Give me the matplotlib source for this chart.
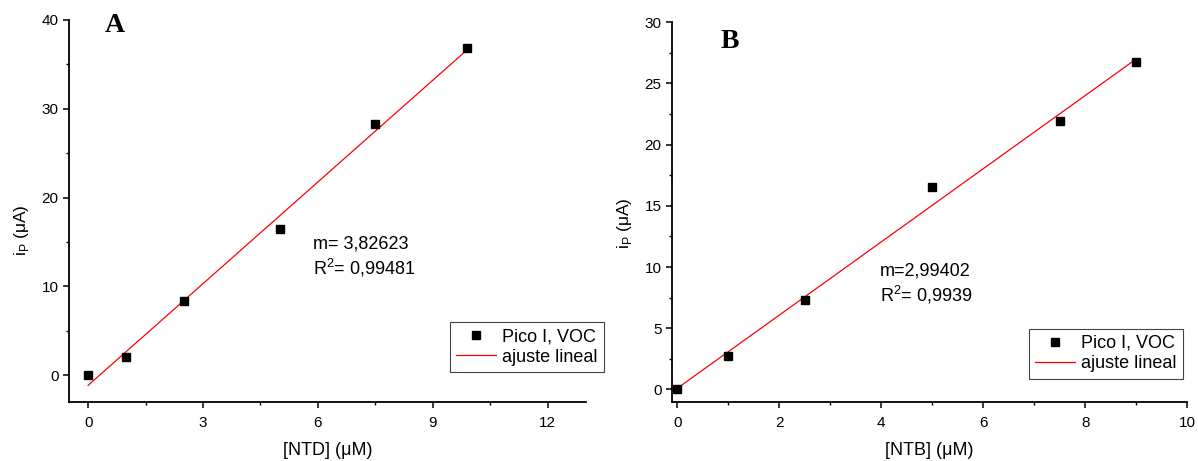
import numpy as np
import matplotlib
matplotlib.use("Agg")
import matplotlib.pyplot as plt
from matplotlib.ticker import MultipleLocator

plt.rcParams["font.family"] = ["Liberation Sans", "DejaVu Sans"]

# panel A: NTD
ntd_conc = [0, 1, 2.5, 5, 7.5, 9.9]
ntd_ip = [0, 2.06, 8.35, 16.5, 28.3, 36.8]
ntd_text = "m= 3,82623\nR$^\\mathregular{2}$= 0,99481"

# panel B: NTB
ntb_conc = [0, 1, 2.5, 5, 7.5, 9.0]
ntb_ip = [0, 2.74, 7.3, 16.55, 21.95, 26.73]
ntb_text = "m=2,99402\nR$^\\mathregular{2}$= 0,9939"

fig = plt.figure(figsize=(11.98, 4.61), dpi=100)
axA = fig.add_axes([0.0576, 0.128, 0.4314, 0.829])
axB = fig.add_axes([0.561, 0.1286, 0.430, 0.8234])


def style(ax, xlim, ylim, xmaj, ymaj, ylab_y):
    ax.set_xlim(*xlim)
    ax.set_ylim(*ylim)
    ax.xaxis.set_major_locator(MultipleLocator(xmaj))
    ax.xaxis.set_minor_locator(MultipleLocator(xmaj / 2))
    ax.yaxis.set_major_locator(MultipleLocator(ymaj))
    ax.yaxis.set_minor_locator(MultipleLocator(ymaj / 2))
    for s in ["top", "right"]:
        ax.spines[s].set_visible(False)
    for s in ["left", "bottom"]:
        ax.spines[s].set_linewidth(1.3)
    ax.tick_params(which="major", direction="out", length=4, width=1.1, labelsize=11)
    ax.tick_params(axis="x", which="major", pad=6)
    ax.tick_params(which="minor", direction="out", length=2.5, width=1.0)
    ax.set_ylabel("i$_\\mathregular{P}$ (μA)", fontsize=12.5)
    ax.yaxis.set_label_coords(-0.074, ylab_y)


def panel(ax, x, y, label, txt, txtpos, lbl, lblpos, legpos):
    x = np.array(x)
    y = np.array(y)
    ax.plot(x, y, "s", color="black", markersize=6, label="Pico I, VOC", zorder=3)
    m, b = np.polyfit(x, y, 1)
    xx = np.array([x.min(), x.max()])
    ax.plot(xx, m * xx + b, color="red", lw=0.9, label="ajuste lineal", zorder=2)
    ax.set_xlabel(label, fontsize=13, labelpad=9)
    ax.text(*txtpos, txt, transform=ax.transAxes, fontsize=13, va="top", linespacing=1.25)
    ax.text(*lblpos, lbl, transform=ax.transAxes, fontsize=20, fontweight="bold",
            family="Liberation Serif", va="center")
    leg = ax.legend(loc="lower left", bbox_to_anchor=legpos, fontsize=13,
                    fancybox=False, framealpha=1, edgecolor="#444444",
                    handlelength=2.2, handletextpad=0.35, borderpad=0.35,
                    labelspacing=0.2, borderaxespad=0)
    leg.get_frame().set_linewidth(0.8)
    leg.set_clip_on(False)


style(axA, (-0.5, 13), (-3, 40), 3, 10, 0.45)
panel(axA, ntd_conc, ntd_ip, "[NTD] (μM)", ntd_text, (0.472, 0.435),
      "A", (0.07, 0.985), (0.737, 0.0785))

style(axB, (-0.1, 10), (-1, 30), 2, 5, 0.47)
panel(axB, ntb_conc, ntb_ip, "[NTB] (μM)", ntb_text, (0.404, 0.368),
      "B", (0.095, 0.95), (0.693, 0.0605))

fig.savefig("out.png", dpi=100)
